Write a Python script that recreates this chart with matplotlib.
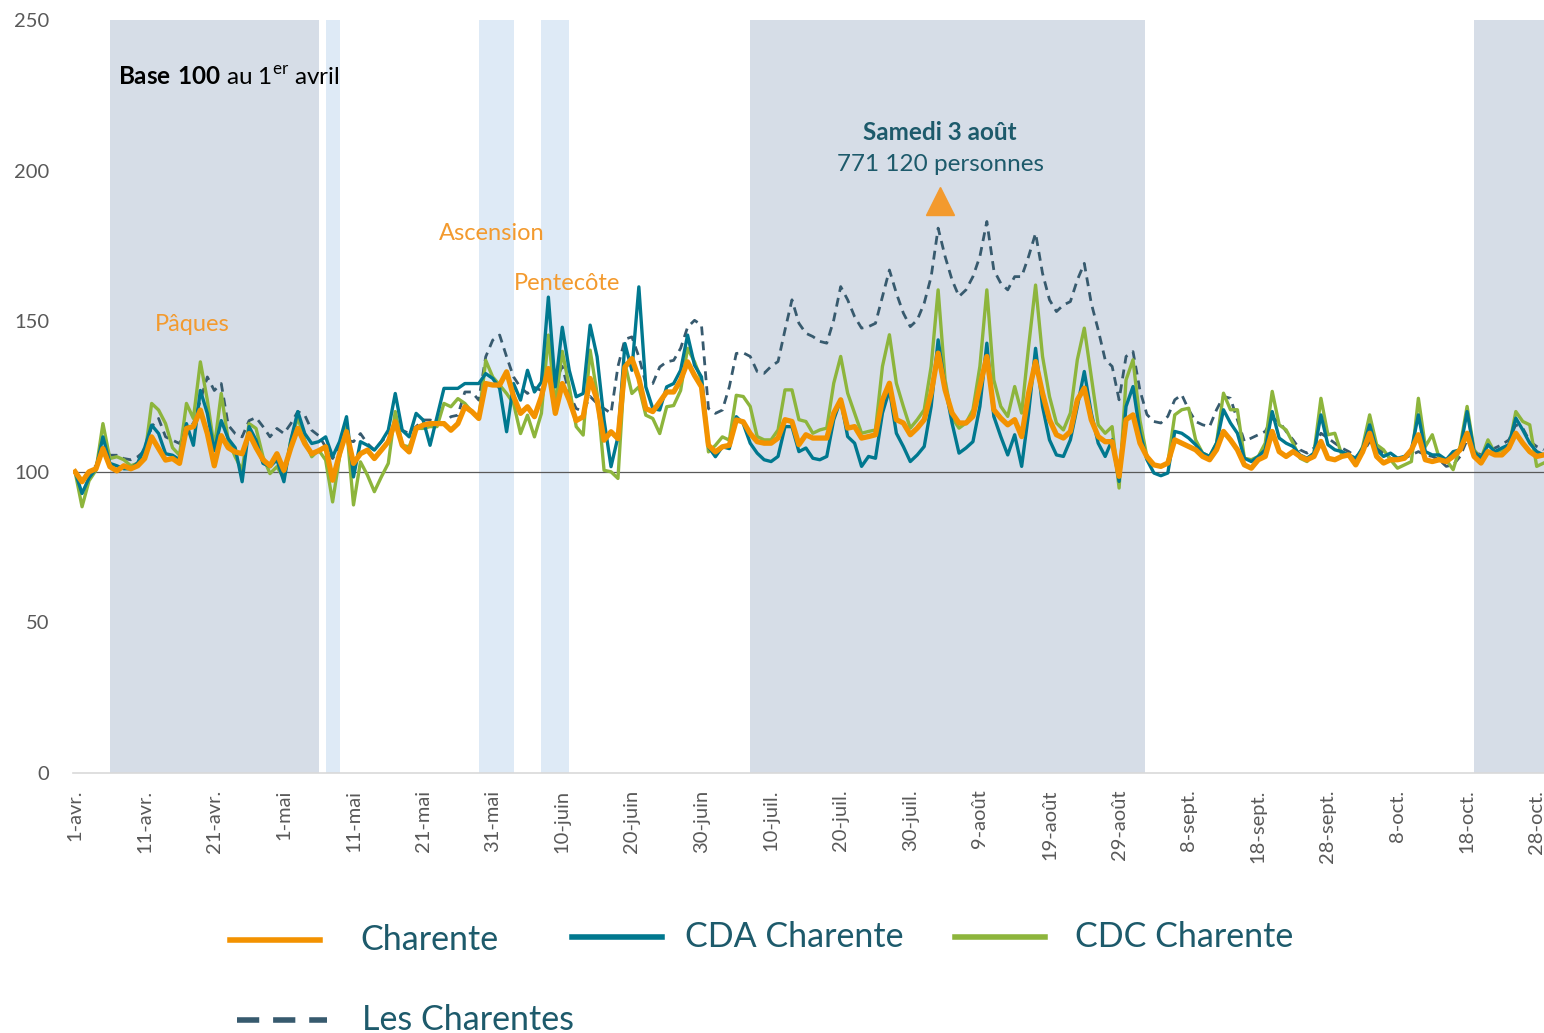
import matplotlib
matplotlib.use('Agg')
import matplotlib.pyplot as plt
import numpy as np
from matplotlib.lines import Line2D

plt.rcParams['font.family'] = ['Lato', 'DejaVu Sans']
plt.rcParams['mathtext.fontset'] = 'custom'
plt.rcParams['mathtext.rm'] = 'Lato'
plt.rcParams['mathtext.bf'] = 'Lato:bold'

# indices base 100 au 1er avril, un point par jour (1 avril -> 30 octobre)
charente = [
    100, 96.7, 100, 101, 107.7, 101.7, 100.3, 102, 101, 102,
    104.4, 111.6, 107.7, 103.9, 104.4, 102.8, 114.4, 115, 120.5, 112.7,
    102, 112, 108, 106.6, 106, 112.7, 108, 104, 102, 106,
    100.5, 108, 114.4, 109.4, 106, 107, 108.3, 97.2, 106, 113.3,
    102.8, 106, 107.2, 104.4, 107.2, 110, 116.6, 108.8, 106.6, 114.4,
    115.5, 116, 116, 116, 113.8, 116, 121.6, 120, 117.7, 129.3,
    128.8, 128.8, 133.2, 125, 119.4, 121.6, 118.3, 125, 134.3, 119.4,
    129.3, 123.8, 117, 118.3, 131, 123.8, 110.5, 113.3, 111, 134.8,
    137.6, 131, 121, 120, 123.2, 126.5, 126.5, 130.4, 136.5, 132,
    128.2, 108.8, 106.6, 108.3, 108.8, 117.2, 116.6, 112.7, 110, 109.5,
    109.5, 111.2, 117.3, 116.7, 109, 112.3, 111.2, 111.2, 111.2, 119.5,
    123.9, 114.5, 115, 111.2, 111.7, 112.3, 123.9, 129.4, 117.3, 116.2,
    112.3, 114.5, 117.3, 126.1, 139.4, 127.2, 119.5, 116.2, 116.2, 118.4,
    128.3, 138.3, 120.6, 117.8, 115.6, 117.3, 111.7, 126.1, 136.6, 126.1,
    117.3, 112.3, 111.2, 113.4, 123.9, 127.8, 117.3, 111.7, 110, 110,
    98.5, 117.3, 118.9, 109.5, 105, 102.3, 101.8, 102.9, 110.6, 109.5,
    108.4, 107.3, 105.1, 104, 107.3, 113.4, 110.6, 107.3, 102.3, 101.2,
    104, 105.1, 113.4, 106.7, 105.1, 106.7, 105.1, 104, 105.1, 110.1,
    104.5, 104, 105.1, 105.6, 102.3, 106.7, 112.8, 105.1, 102.9, 104,
    104, 104.5, 107.3, 112.3, 104, 103.4, 104, 103.4, 105.1, 107.3,
    112.8, 105.1, 102.9, 106.7, 105.6, 105.6, 107.9, 112.8, 109.5, 106.7,
    105.1, 105.6,
]

cda_charente = [
    100, 92.8, 98, 101, 111.6, 102.8, 102, 101, 101, 103,
    108, 115.5, 112.7, 106, 105.5, 104, 116, 108.8, 127, 119.4,
    107, 117, 111, 108, 96.7, 115, 110.5, 102.8, 101.7, 104,
    96.7, 110.5, 120, 112.7, 109.4, 110, 111.6, 105, 110, 118.3,
    98.3, 110, 108.8, 107.2, 110, 113.8, 126, 113.8, 111.6, 119.4,
    117.2, 108.8, 118.3, 127.7, 127.7, 127.7, 129.3, 129.3, 129.3, 132.6,
    131, 127.7, 113.3, 129.3, 123.8, 133.7, 126.5, 129.8, 158, 128.2,
    148, 133.7, 124.9, 126, 148.7, 138.2, 117.2, 101.7, 111.6, 142.6,
    133.7, 161.4, 128.2, 121, 120.5, 128.2, 129.3, 133.7, 145.4, 135.4,
    131.5, 108.3, 105, 108.3, 107.7, 118.3, 116, 109.5, 106.2, 104,
    103.4, 105.1, 115, 115, 106.7, 107.9, 104.5, 104, 105.1, 117.3,
    123.9, 111.7, 109.5, 101.8, 105.1, 104.5, 119.5, 127.2, 112.8, 108.4,
    103.4, 105.6, 108.4, 121.7, 143.8, 128.3, 116.2, 106.2, 107.9, 110,
    121.7, 142.7, 118.4, 111.7, 105.6, 112.3, 101.8, 119.5, 141, 121.7,
    110.6, 105.6, 105.1, 110.6, 121.7, 133.3, 119.5, 109.5, 105.1, 110.6,
    96.8, 121.7, 128.3, 113, 104, 99.6, 98.7, 99.6, 113.4, 112.8,
    111.2, 109, 106.2, 105.1, 109.5, 120.6, 116.2, 112.8, 104.5, 103.4,
    105.1, 107.3, 120, 111.2, 109.5, 108.4, 105.6, 104.5, 106.2, 118.9,
    109, 107.3, 106.7, 105.6, 104.5, 107.9, 115.6, 107.3, 105.1, 106.2,
    104.5, 105.1, 107.3, 118.9, 106.7, 105.6, 105.6, 104, 106.7, 107.3,
    120, 106.7, 104.5, 109, 106.7, 107.9, 109, 117.8, 113.9, 109.5,
    106.7, 105.6,
]

cdc_charente = [
    100, 88.4, 97, 100.5, 116, 104.4, 105, 104, 102, 102.8,
    105, 122.7, 120.5, 116, 108, 105.5, 122.7, 117.7, 136.5, 123.8,
    108, 126, 110.5, 105, 100.5, 116, 114.4, 105, 99.4, 101.7,
    97.8, 110.5, 118, 110.5, 105, 107.2, 103.9, 90, 105, 115,
    89, 103.3, 98.9, 93.4, 98.3, 102.8, 120, 108.8, 108.3, 114.4,
    114.4, 115, 115, 122.7, 121.6, 124.3, 122.7, 120, 117.7, 137,
    131.5, 128.8, 126, 122.7, 112.7, 118.8, 111.6, 119.4, 145.4, 122,
    140, 128.2, 115, 112.2, 140.4, 126, 100.5, 100, 97.8, 136,
    126, 128.2, 118.8, 117.7, 112.7, 121.6, 122, 127, 141, 136.5,
    130.4, 106.6, 108.8, 111.6, 110.5, 125.4, 125, 121.7, 111.7, 110.6,
    110.6, 113.9, 127.2, 127.2, 117.3, 116.7, 112.8, 113.9, 114.5, 129.4,
    138.3, 126.1, 119.5, 112.8, 113.4, 113.9, 135, 145.5, 129.4, 121.7,
    114.5, 117.3, 120.6, 135, 160.4, 130.5, 118, 114.5, 116.2, 120.6,
    135, 160.4, 130.5, 121.7, 118.4, 128.3, 119.5, 141.6, 162, 138.3,
    125, 116.2, 113.9, 119.5, 137.2, 147.7, 131.6, 115.6, 112.8, 115,
    94.6, 130.5, 137.2, 117, 105, 102.3, 101.8, 102.9, 118.9, 120.6,
    121.1, 110.6, 106.2, 105.1, 109.5, 126.1, 120.6, 120.6, 104.5, 104,
    105.1, 109.5, 126.7, 115.6, 113.9, 109.5, 104.5, 103.4, 106.2, 124.4,
    112.3, 112.8, 105.6, 105.6, 103.4, 108.4, 118.9, 109, 107.3, 104,
    101.2, 102.3, 103.4, 124.4, 108.4, 112.3, 104.5, 104, 100.7, 108.4,
    121.7, 107.3, 104.5, 110.6, 106.2, 107.3, 107.9, 120, 116.7, 115.6,
    101.8, 102.9,
]

les_charentes = [
    100, 97, 100, 102, 108, 105.5, 105.5, 104.4, 104, 105,
    107, 115, 117.7, 111.6, 110.5, 109.4, 115, 116, 123.8, 131.5,
    127, 129.3, 115.5, 112.7, 111.6, 117, 118, 115, 111.6, 114.4,
    112.7, 116, 120, 118.8, 113.8, 112, 108.3, 104.4, 108.3, 110.5,
    110, 112.7, 109.4, 107.2, 110, 112.2, 115, 113.8, 112.7, 115,
    117.2, 117.2, 116.6, 116, 118.3, 118.8, 126.5, 126.5, 123.8, 138.2,
    143.7, 145.4, 138.2, 131.5, 128, 126, 128, 127, 132, 130,
    135, 126, 121, 120, 125, 122.7, 121, 119.4, 135, 144,
    144.8, 138.2, 129.3, 129.3, 134.8, 136.5, 137, 141, 148, 150.3,
    148.7, 121, 119.4, 120.5, 128.2, 139.3, 139.5, 138.3, 133.3, 132.7,
    135, 136.6, 147.1, 157.1, 149.3, 146, 144.9, 143.3, 142.7, 150.4,
    161.5, 157.1, 151.5, 147.7, 148.2, 149.3, 158.2, 167, 159.3, 152.7,
    148.2, 150.4, 156, 164.8, 180.9, 171.5, 163.7, 158.2, 160.4, 164.8,
    171.5, 183.1, 167, 162.6, 160.4, 164.8, 164.8, 171.5, 179.2, 165.9,
    157.1, 153.2, 155.4, 156.5, 163.7, 169.2, 156, 147.1, 137.2, 135,
    123.9, 138.3, 139.9, 127, 119, 116.7, 116.2, 118.4, 123.9, 125.6,
    120.6, 116.7, 115.6, 115, 120.6, 125, 124.4, 117.3, 110.1, 111.2,
    112.3, 113.4, 117.8, 116.7, 113.4, 110.6, 107.3, 106.2, 107.9, 112.8,
    111.2, 109.5, 107.9, 106.7, 105.1, 106.2, 110.1, 107.9, 106.2, 104.5,
    103.4, 104.5, 105.6, 106.7, 105.6, 105.1, 104, 101.8, 102.3, 105.1,
    110.6, 106.7, 105.6, 106.7, 107.9, 109, 110.6, 115.6, 114.5, 110.1,
    108.4, 107.3,
]

tick_labels = ['1-avr.', '11-avr.', '21-avr.', '1-mai', '11-mai', '21-mai',
               '31-mai', '10-juin', '20-juin', '30-juin', '10-juil.',
               '20-juil.', '30-juil.', '9-août', '19-août', '29-août',
               '8-sept.', '18-sept.', '28-sept.', '8-oct.', '18-oct.',
               '28-oct.']

# périodes de vacances (jours depuis le 1er avril)
vacances = [(5, 35), (97, 153.7), (201, 212)]
ponts = [(36, 38), (58, 63), (67, 71)]

# jour du pic
pic_jour = 124
pic_val = 190

jours = np.arange(len(charente))

ORANGE = '#f39200'
TEAL = '#00788f'
GREEN = '#8db53c'
SLATE = '#375a6e'
TXT = '#1d5a6b'

fig = plt.figure(figsize=(15.44, 10.33), dpi=100)
ax = fig.add_axes([73 / 1544, 1 - 773 / 1033, 1471 / 1544, 753 / 1033])

for a, b in vacances:
    ax.axvspan(a, b, color='#d6dde7', lw=0, zorder=0)
for a, b in ponts:
    ax.axvspan(a, b, color='#deeaf6', lw=0, zorder=0)

ax.axhline(100, color='#595959', lw=0.9, zorder=1)

ax.plot(jours, les_charentes, color=SLATE, lw=2.0, ls=(0, (3.2, 2.2)), zorder=2)
ax.plot(jours, cdc_charente, color=GREEN, lw=2.4, zorder=3)
ax.plot(jours, cda_charente, color=TEAL, lw=2.4, zorder=4)
ax.plot(jours, charente, color=ORANGE, lw=3.8, zorder=5)

ax.set_xlim(-0.3, 211.05)
ax.set_ylim(0, 250)
ax.set_yticks(range(0, 251, 50))
ax.set_xticks(range(0, 211, 10))
ax.set_xticklabels(tick_labels, rotation=90, va='top', ha='center')
ax.tick_params(axis='both', length=0, labelsize=14.5, colors='#595959')
ax.tick_params(axis='y', pad=17)
ax.tick_params(axis='x', pad=12)
for s in ['top', 'right', 'left']:
    ax.spines[s].set_visible(False)
ax.spines['bottom'].set_color('#d9d9d9')
ax.spines['bottom'].set_linewidth(1.2)

# annotations
ax.text(6.1, 231, r'$\mathbf{Base\ 100}$ au 1$^{\mathrm{er}}$ avril', fontsize=17.5,
        color='black', va='center', ha='left')
ax.text(16.8, 149, 'Pâques', fontsize=17, color='#f39a2e', ha='center', va='center')
ax.text(59.9, 179, 'Ascension', fontsize=17, color='#f39a2e', ha='center', va='center')
ax.text(70.7, 162.5, 'Pentecôte', fontsize=17, color='#f39a2e', ha='center', va='center')
ax.text(124.3, 212.5, 'Samedi 3 août', fontsize=17.5, fontweight='bold', color=TXT,
        ha='center', va='center')
ax.text(124.3, 202, '771 120 personnes', fontsize=17.5, color=TXT, ha='center', va='center')
ax.plot([pic_jour + 0.3], [pic_val], marker='^', ms=20, color='#f39a2e', mec='#f39a2e',
        zorder=6, clip_on=False)

# légende manuelle
def leg(x0, y, gap, label, color, lw, ls='-'):
    fig.add_artist(Line2D([x0 / 1544, (x0 + 90) / 1544], [1 - y / 1033, 1 - y / 1033],
                          color=color, lw=lw, ls=ls, transform=fig.transFigure))
    fig.text((x0 + gap) / 1544, 1 - y / 1033, label, fontsize=24.5, color=TXT,
             va='center', ha='left')

leg(230, 940, 130, 'Charente', ORANGE, 4)
leg(572, 937, 113, 'CDA Charente', TEAL, 4)
leg(955, 937, 120, 'CDC Charente', GREEN, 4)
leg(237, 1020, 125, 'Les Charentes', SLATE, 4, ls=(0, (4, 2.5)))

fig.savefig('out.png', dpi=100)
